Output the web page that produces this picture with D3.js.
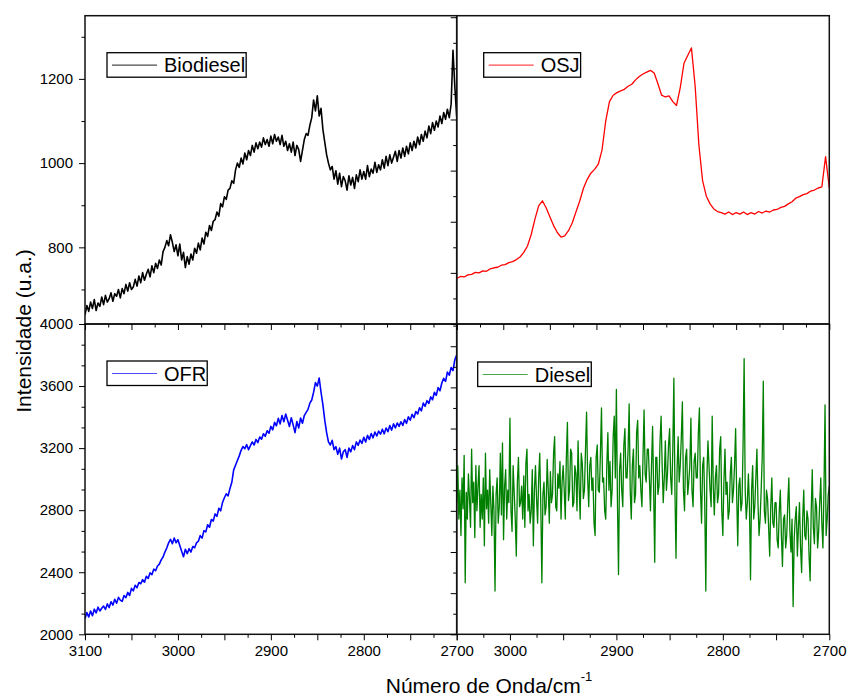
<!DOCTYPE html>
<html>
<head>
<meta charset="utf-8">
<script src="https://cdnjs.cloudflare.com/ajax/libs/d3/7.8.5/d3.min.js"></script>
<style>
body{margin:0;background:#fff;}
text{font-family:"Liberation Sans", Arial, sans-serif;fill:#000;}
</style>
</head>
<body>
<script>
// spectra sampled on a regular wavenumber grid (cm-1)
var bioStart = 3100, bioStep = 2
var osjStart = 3100, osjStep = 4
var ofrStart = 3100, ofrStep = 2
var dieselStart = 3050, dieselStep = 1

// Biodiesel, 3100 -> 2700
var biodiesel = [
	640, 662, 648, 670, 655, 676, 650, 668, 660, 682,
	664, 686, 670, 678, 692, 672, 690, 684, 700, 680,
	702, 690, 712, 696, 716, 700, 706, 724, 708, 732,
	716, 740, 722, 736, 748, 730, 756, 740, 762, 750,
	770, 758, 790, 800, 816, 804, 830, 812, 790, 806,
	780, 808, 770, 788, 752, 778, 760, 784, 770, 798,
	786, 810, 794, 822, 808, 836, 826, 852, 840, 862,
	866, 884, 874, 904, 896, 920, 914, 936, 940, 958,
	952, 984, 1000, 990, 1012, 998, 1024, 1008, 1030, 1018,
	1042, 1026, 1048, 1034, 1050, 1038, 1060, 1044, 1056, 1040,
	1064, 1046, 1068, 1052, 1062, 1044, 1066, 1040, 1052, 1030,
	1046, 1026, 1050, 1018, 1042, 1032, 1004, 1030, 1056, 1070,
	1066, 1090, 1108, 1150, 1124, 1160, 1112, 1130, 1080, 1050,
	1020, 1000, 984, 992, 962, 982, 950, 976, 944, 968,
	958, 936, 970, 948, 966, 940, 972, 956, 984, 962,
	980, 962, 994, 968, 986, 976, 1002, 978, 996, 984,
	1008, 988, 1016, 994, 1020, 1000, 1014, 1028, 1004, 1030,
	1012, 1036, 1016, 1040, 1022, 1048, 1030, 1052, 1036, 1062,
	1044, 1068, 1052, 1076, 1060, 1088, 1070, 1096, 1078, 1100,
	1086, 1112, 1094, 1120, 1104, 1128, 1108, 1140, 1268, 1180,
	1110
]
// OSJ, 3100 -> 2700 (own scale, no labels)
var osj = [
	178, 186, 184, 192, 194, 202, 200, 208, 206, 216,
	220, 222, 230, 232, 240, 244, 252, 262, 280, 305,
	350, 410, 462, 482, 455, 420, 385, 358, 340, 345,
	365, 395, 438, 480, 530, 565, 590, 605, 625, 680,
	795, 870, 895, 905, 912, 918, 930, 938, 955, 968,
	978, 985, 992, 982, 940, 895, 888, 892, 870, 855,
	925, 1020, 1050, 1080, 930, 700, 560, 500, 470, 450,
	440, 436, 430, 438, 428, 436, 430, 438, 428, 436,
	430, 440, 434, 442, 438, 446, 448, 456, 460, 470,
	478, 492, 498, 506, 510, 520, 524, 532, 536, 655,
	532
]
// OFR, 3100 -> 2700
var ofr = [
	2100, 2140, 2112, 2150, 2120, 2162, 2138, 2175, 2150, 2168,
	2182, 2160, 2196, 2172, 2210, 2188, 2226, 2200, 2238, 2220,
	2212, 2250, 2236, 2270, 2250, 2296, 2280, 2316, 2300, 2334,
	2326, 2352, 2336, 2374, 2360, 2396, 2384, 2420, 2410, 2440,
	2452, 2480, 2498, 2530, 2556, 2590, 2612, 2584, 2620, 2590,
	2610, 2572, 2536, 2500, 2548, 2520, 2552, 2530, 2566, 2558,
	2590, 2600, 2636, 2620, 2668, 2660, 2706, 2690, 2740, 2730,
	2776, 2760, 2812, 2796, 2850, 2880, 2906, 2892, 2940, 2980,
	3060, 3090, 3120, 3150, 3186, 3210, 3196, 3222, 3190, 3216,
	3240, 3220, 3256, 3236, 3272, 3258, 3292, 3276, 3312, 3296,
	3340, 3318, 3366, 3344, 3392, 3356, 3410, 3370, 3420, 3380,
	3340, 3396, 3350, 3300, 3372, 3330, 3394, 3360, 3410, 3430,
	3450, 3490, 3510, 3560, 3622, 3600, 3652, 3560, 3480, 3380,
	3300, 3240, 3220, 3250, 3190, 3210, 3160, 3200, 3130, 3176,
	3190, 3140, 3200, 3176, 3216, 3190, 3240, 3218, 3252, 3230,
	3270, 3240, 3282, 3256, 3294, 3266, 3304, 3278, 3310, 3290,
	3322, 3292, 3330, 3306, 3346, 3316, 3356, 3330, 3362, 3340,
	3370, 3346, 3384, 3360, 3402, 3380, 3418, 3396, 3436, 3420,
	3460, 3440, 3490, 3470, 3506, 3488, 3530, 3512, 3560, 3540,
	3590, 3570, 3620, 3650, 3630, 3690, 3670, 3720, 3700, 3770,
	3800
]
// Diesel, 3050 -> 2700 (own scale, no labels)
var diesel = [
	640, 820, 560, 700, 480, 760, 610, 870, 250, 690,
	560, 780, 660, 520, 900, 640, 740, 470, 820, 600,
	720, 820, 520, 680, 560, 760, 430, 880, 610, 700,
	540, 800, 640, 480, 720, 600, 210, 680, 760, 540,
	620, 880, 580, 930, 460, 720, 800, 560, 700, 640,
	1050, 600, 500, 820, 690, 560, 380, 740, 860, 620,
	640, 720, 560, 770, 520, 830, 900, 600, 680, 540,
	600, 800, 430, 700, 820, 660, 540, 760, 880, 620,
	250, 680, 740, 580, 620, 850, 700, 540, 790, 640,
	680, 880, 960, 620, 600, 780, 710, 840, 560, 740,
	820, 700, 560, 860, 1030, 650, 700, 900, 880, 620,
	640, 820, 780, 600, 940, 720, 560, 880, 830, 660,
	700, 900, 1080, 760, 620, 820, 860, 700, 760, 540,
	480, 860, 920, 700, 690, 880, 1100, 740, 760, 600,
	560, 820, 980, 700, 840, 620, 700, 960, 1060, 760,
	1190, 640, 290, 800, 880, 700, 620, 920, 1000, 760,
	760, 900, 1120, 700, 560, 820, 900, 640, 680, 980,
	1040, 760, 820, 700, 620, 860, 1090, 780, 740, 900,
	900, 760, 600, 820, 1010, 700, 350, 860, 860, 680,
	720, 940, 1060, 820, 640, 760, 940, 700, 780, 920,
	1000, 760, 680, 900, 1245, 700, 370, 800, 960, 740,
	820, 960, 1130, 700, 600, 860, 900, 680, 740, 820,
	1050, 700, 620, 840, 880, 760, 760, 980, 1100, 700,
	540, 820, 860, 640, 210, 760, 940, 820, 700, 620,
	1060, 720, 580, 760, 820, 640, 680, 900, 960, 600,
	480, 740, 900, 680, 740, 560, 600, 780, 860, 640,
	700, 820, 1000, 680, 430, 720, 760, 600, 640, 920,
	1340, 700, 560, 640, 780, 620, 265, 700, 820, 560,
	620, 760, 900, 640, 480, 560, 700, 860, 1230, 600,
	540, 700, 660, 520, 380, 620, 760, 540, 520, 640,
	640, 460, 420, 600, 700, 480, 330, 560, 580, 420,
	480, 640, 760, 500, 400, 560, 135, 460, 560, 620,
	380, 520, 640, 420, 300, 560, 700, 480, 460, 600,
	560, 380, 260, 600, 800, 520, 440, 660, 620, 420,
	500, 640, 760, 540, 420, 700, 1115, 480, 560, 680,
	720
]

var xTickLabels = [3100, 3000, 2900, 2800, 2700]
var bioTickLabels = [800, 1000, 1200]
var ofrTickLabels = [2000, 2400, 2800, 3200, 3600, 4000]

var W = 848, H = 696
var xL = 85, xM = 456.7, xR = 829.3
var yT = 15.7, yM = 324, yB = 634.3

var svg = d3.select("body")
	.append("svg")
	.attr("width", W)
	.attr("height", H)

function addAxis(orient, scale, majors, minors, labels, tx, ty){
	var mk = orient == "bottom" ? d3.axisBottom : d3.axisLeft
	var gMin = svg.append("g").attr("transform", "translate(" + tx + "," + ty + ")")
		.call(mk(scale).tickValues(minors).tickSize(3.5).tickFormat(""))
	gMin.select(".domain").remove()
	var gMaj = svg.append("g").attr("transform", "translate(" + tx + "," + ty + ")")
		.call(mk(scale).tickValues(majors).tickSize(6).tickPadding(orient == "bottom" ? 5 : 6)
			.tickFormat(function(d){ return labels.indexOf(d) >= 0 ? d : "" }))
	gMaj.select(".domain").remove()
	svg.selectAll("g.tick line").attr("stroke", "#000")
	gMaj.selectAll("text").style("font-size", "15px").attr("fill", "#000")
}

function drawPanel(id, xs, ys, values, start, step, color, width, name, legendDx, legendDy){
	var x0 = xs.range()[0], x1 = xs.range()[1]
	var y0 = ys.range()[1], y1 = ys.range()[0]
	svg.append("clipPath").attr("id", id)
		.append("rect").attr("x", x0).attr("y", y0).attr("width", x1 - x0).attr("height", y1 - y0)
	var line = d3.line()
		.x(function(d, i){ return xs(start - i * step) })
		.y(function(d){ return ys(d) })
	svg.append("path")
		.datum(values)
		.attr("clip-path", "url(#" + id + ")")
		.attr("d", line)
		.attr("fill", "none")
		.attr("stroke", color)
		.attr("stroke-width", width)
		.attr("stroke-linejoin", "round")

	// legend
	var lx = x0 + legendDx, ly = y0 + legendDy
	var lg = svg.append("g")
	var box = lg.append("rect").attr("x", lx).attr("y", ly).attr("height", 24.5)
		.attr("fill", "#fff").attr("stroke", "#000").attr("stroke-width", 1.3)
	lg.append("line").attr("x1", lx + 5).attr("x2", lx + 50)
		.attr("y1", ly + 12.5).attr("y2", ly + 12.5)
		.attr("stroke", color).attr("stroke-width", 1.2).attr("opacity", 0.7)
	var t = lg.append("text").attr("x", lx + 57).attr("y", ly + 19.5)
		.style("font-size", "20px").text(name)
	box.attr("width", 57 + t.node().getComputedTextLength() + 1)

	// frame
	svg.append("rect").attr("x", x0).attr("y", y0).attr("width", x1 - x0).attr("height", y1 - y0)
		.attr("fill", "none").attr("stroke", "#111").attr("stroke-width", 1.5)
}

var xLeft = d3.scaleLinear().domain([3100, 2700]).range([xL, xM])
var xTopRight = d3.scaleLinear().domain([3100, 2700]).range([xM, xR])
var xBotRight = d3.scaleLinear().domain([3050, 2700]).range([xM, xR])

var yBio = d3.scaleLinear().domain([618, 1350]).range([yM, yT])
var yOsj = d3.scaleLinear().domain([0, 1206]).range([yM, yT])
var yOfr = d3.scaleLinear().domain([2000, 4000]).range([yB, yM])
var yDie = d3.scaleLinear().domain([0, 1508]).range([yB, yM])

drawPanel("c1", xLeft, yBio, biodiesel, bioStart, bioStep, "#000", 1.6, "Biodiesel", 22, 37)
drawPanel("c2", xTopRight, yOsj, osj, osjStart, osjStep, "#ff0000", 1.3, "OSJ", 27, 37)
drawPanel("c3", xLeft, yOfr, ofr, ofrStart, ofrStep, "#0000ff", 1.6, "OFR", 22, 37)
drawPanel("c4", xBotRight, yDie, diesel, dieselStart, dieselStep, "#008000", 1.3, "Diesel", 21, 38)

// x axes: majors every 50, minors every 25
var maj50 = d3.range(3100, 2699, -50), min25 = d3.range(3075, 2699, -50)
var maj50b = d3.range(3050, 2699, -50), min25b = d3.range(3025, 2699, -50)
addAxis("bottom", xLeft, maj50, min25, [], 0, yM)
addAxis("bottom", xTopRight, maj50, min25, [], 0, yM)
addAxis("bottom", xLeft, maj50, min25, xTickLabels, 0, yB)
addAxis("bottom", xBotRight, maj50b, min25b, xTickLabels, 0, yB)

// y axes
addAxis("left", yBio, d3.range(800, 1350, 200), d3.range(700, 1350, 200), bioTickLabels, xL, 0)
addAxis("left", yOsj, d3.range(0, 1207, 200), d3.range(100, 1207, 200), [], xM, 0)
addAxis("left", yOfr, ofrTickLabels, d3.range(2000, 4001, 400 / 3).filter(function(v, i){ return i % 3 != 0 }), ofrTickLabels, xL, 0)
addAxis("left", yDie, d3.range(0, 1509, 200), d3.range(100, 1509, 200), [], xM, 0)

// axis titles
svg.append("text")
	.attr("transform", "translate(31," + 331 + ") rotate(-90)")
	.attr("text-anchor", "middle")
	.style("font-size", "21px")
	.text("Intensidade (u.a.)")
svg.append("text")
	.attr("x", 489).attr("y", 693)
	.attr("text-anchor", "middle")
	.style("font-size", "21px")
	.text("Número de Onda/cm")
	.append("tspan").attr("dy", -12).style("font-size", "13px").text("-1")
</script>
</body>
</html>
